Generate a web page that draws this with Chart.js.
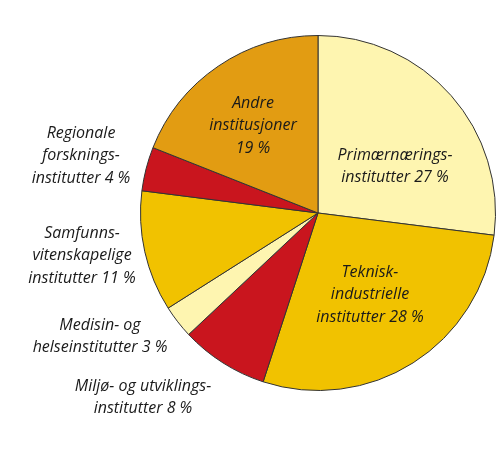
<!DOCTYPE html>
<html>
<head>
<meta charset="utf-8">
<script src="https://cdn.jsdelivr.net/npm/chart.js@4/dist/chart.umd.min.js"></script>
<style>
  html, body { margin: 0; padding: 0; background: #fff; }
  #wrap { width: 500px; height: 462px; position: relative; }
</style>
</head>
<body>
<div id="wrap"><canvas id="chart" width="500" height="462"></canvas></div>
<script>
// shares in percent, clockwise from top
const categories = [
  'Primærnærings-institutter', 'Teknisk-industrielle institutter', 'Miljø- og utviklings-institutter',
  'Medisin- og helseinstitutter', 'Samfunnsvitenskapelige institutter', 'Regionale forskningsinstitutter',
  'Andre institusjoner'
];
const shares = [27, 28, 8, 3, 11, 4, 19];
const sliceColors = ['#fef5b0', '#f1c200', '#c9151e', '#fef5b0', '#f1c200', '#c9151e', '#e29c12'];

// label text lines and where they sit
const labelLines = [
  { lines: ['Primærnærings-', 'institutter 27 %'], x: 395, y: 155 },
  { lines: ['Teknisk-', 'industrielle', 'institutter 28 %'], x: 370, y: 272 },
  { lines: ['Miljø- og utviklings-', 'institutter 8 %'], x: 143, y: 386 },
  { lines: ['Medisin- og', 'helseinstitutter 3 %'], x: 100, y: 325 },
  { lines: ['Samfunns-', 'vitenskapelige', 'institutter 11 %'], x: 82, y: 233 },
  { lines: ['Regionale', 'forsknings-', 'institutter 4 %'], x: 81, y: 133 },
  { lines: ['Andre', 'institusjoner', '19 %'], x: 253, y: 103 }
];

const labelPlugin = {
  id: 'sliceLabels',
  afterDraw(chart) {
    const ctx = chart.ctx;
    ctx.save();
    ctx.font = 'italic 16px "Open Sans", "DejaVu Sans", sans-serif';
    ctx.fillStyle = '#1a1a1a';
    ctx.textAlign = 'center';
    ctx.textBaseline = 'middle';
    labelLines.forEach(l => {
      l.lines.forEach((t, i) => ctx.fillText(t, l.x, l.y + i * 22.5));
    });
    ctx.restore();
  }
};

new Chart(document.getElementById('chart'), {
  type: 'pie',
  data: {
    labels: categories,
    datasets: [{
      data: shares,
      backgroundColor: sliceColors,
      borderColor: '#333',
      borderWidth: 1
    }]
  },
  options: {
    responsive: false,
    animation: false,
    layout: { padding: { left: 140, right: 4, top: 35, bottom: 71 } },
    plugins: { legend: { display: false }, tooltip: { enabled: false } }
  },
  plugins: [labelPlugin]
});
</script>
</body>
</html>
